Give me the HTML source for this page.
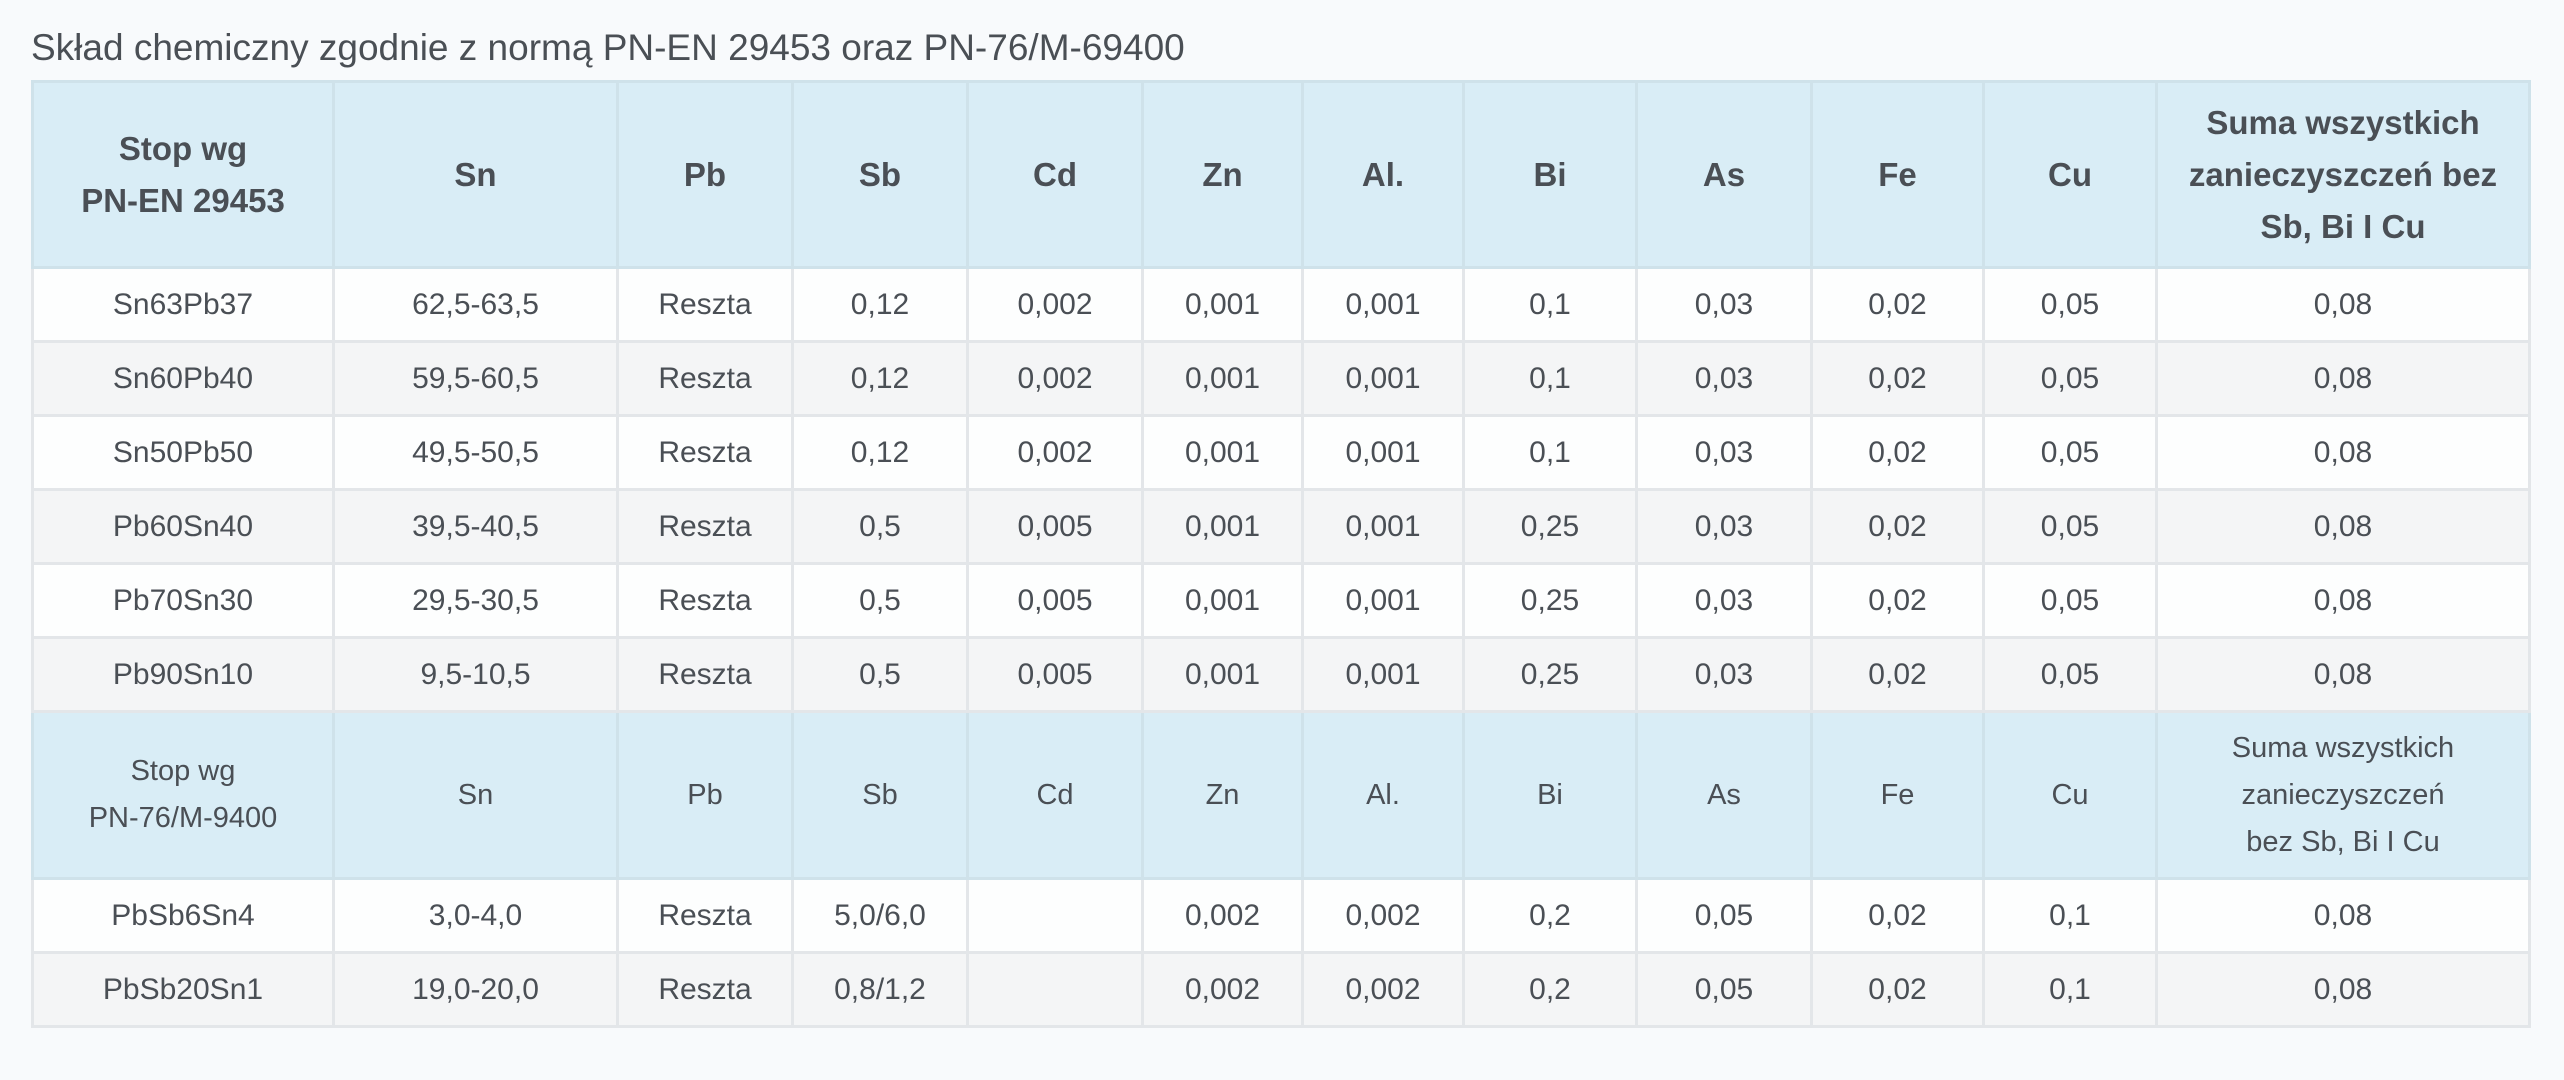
<!DOCTYPE html>
<html><head><meta charset="utf-8"><style>
html,body{margin:0;padding:0;background:#f8fafc;width:2564px;height:1080px;overflow:hidden}
body{font-family:"Liberation Sans",sans-serif;color:#4a4f55}
.t{position:absolute;left:31px;top:28px;font-size:37px;line-height:40px;color:#4a4f55;white-space:nowrap}
table{position:absolute;left:31px;top:80px;border-collapse:collapse;table-layout:fixed;width:2497px}
td{border:3px solid #e3e6e9;text-align:center;vertical-align:middle;font-size:30px;padding:0}
tr.h td{background:#d9edf6;border-color:#cfe2ea;font-weight:bold;font-size:33px;line-height:52px;height:183px;color:#4a4f55}
tr.h2 td{background:#d9edf6;border-color:#cfe2ea;font-size:29px;line-height:47px;height:164px}
tr.r td{height:71px;background:#fdfefe}
tr.g td{background:#f4f5f6}
</style></head><body>
<div class="t">Skład chemiczny zgodnie z normą PN-EN 29453 oraz PN-76/M-69400</div>
<table>
<colgroup><col style="width:301px"><col style="width:284px"><col style="width:175px"><col style="width:175px"><col style="width:175px"><col style="width:160px"><col style="width:161px"><col style="width:173px"><col style="width:175px"><col style="width:172px"><col style="width:173px"><col style="width:373px"></colgroup>
<tr class="h"><td>Stop wg<br>PN-EN 29453</td><td>Sn</td><td>Pb</td><td>Sb</td><td>Cd</td><td>Zn</td><td>Al.</td><td>Bi</td><td>As</td><td>Fe</td><td>Cu</td><td>Suma wszystkich<br>zanieczyszczeń bez<br>Sb, Bi I Cu</td></tr>
<tr class="r"><td>Sn63Pb37</td><td>62,5-63,5</td><td>Reszta</td><td>0,12</td><td>0,002</td><td>0,001</td><td>0,001</td><td>0,1</td><td>0,03</td><td>0,02</td><td>0,05</td><td>0,08</td></tr>
<tr class="r g"><td>Sn60Pb40</td><td>59,5-60,5</td><td>Reszta</td><td>0,12</td><td>0,002</td><td>0,001</td><td>0,001</td><td>0,1</td><td>0,03</td><td>0,02</td><td>0,05</td><td>0,08</td></tr>
<tr class="r"><td>Sn50Pb50</td><td>49,5-50,5</td><td>Reszta</td><td>0,12</td><td>0,002</td><td>0,001</td><td>0,001</td><td>0,1</td><td>0,03</td><td>0,02</td><td>0,05</td><td>0,08</td></tr>
<tr class="r g"><td>Pb60Sn40</td><td>39,5-40,5</td><td>Reszta</td><td>0,5</td><td>0,005</td><td>0,001</td><td>0,001</td><td>0,25</td><td>0,03</td><td>0,02</td><td>0,05</td><td>0,08</td></tr>
<tr class="r"><td>Pb70Sn30</td><td>29,5-30,5</td><td>Reszta</td><td>0,5</td><td>0,005</td><td>0,001</td><td>0,001</td><td>0,25</td><td>0,03</td><td>0,02</td><td>0,05</td><td>0,08</td></tr>
<tr class="r g"><td>Pb90Sn10</td><td>9,5-10,5</td><td>Reszta</td><td>0,5</td><td>0,005</td><td>0,001</td><td>0,001</td><td>0,25</td><td>0,03</td><td>0,02</td><td>0,05</td><td>0,08</td></tr>
<tr class="h2"><td>Stop wg<br>PN-76/M-9400</td><td>Sn</td><td>Pb</td><td>Sb</td><td>Cd</td><td>Zn</td><td>Al.</td><td>Bi</td><td>As</td><td>Fe</td><td>Cu</td><td>Suma wszystkich<br>zanieczyszczeń<br>bez Sb, Bi I Cu</td></tr>
<tr class="r"><td>PbSb6Sn4</td><td>3,0-4,0</td><td>Reszta</td><td>5,0/6,0</td><td></td><td>0,002</td><td>0,002</td><td>0,2</td><td>0,05</td><td>0,02</td><td>0,1</td><td>0,08</td></tr>
<tr class="r g"><td>PbSb20Sn1</td><td>19,0-20,0</td><td>Reszta</td><td>0,8/1,2</td><td></td><td>0,002</td><td>0,002</td><td>0,2</td><td>0,05</td><td>0,02</td><td>0,1</td><td>0,08</td></tr>
</table>
</body></html>
